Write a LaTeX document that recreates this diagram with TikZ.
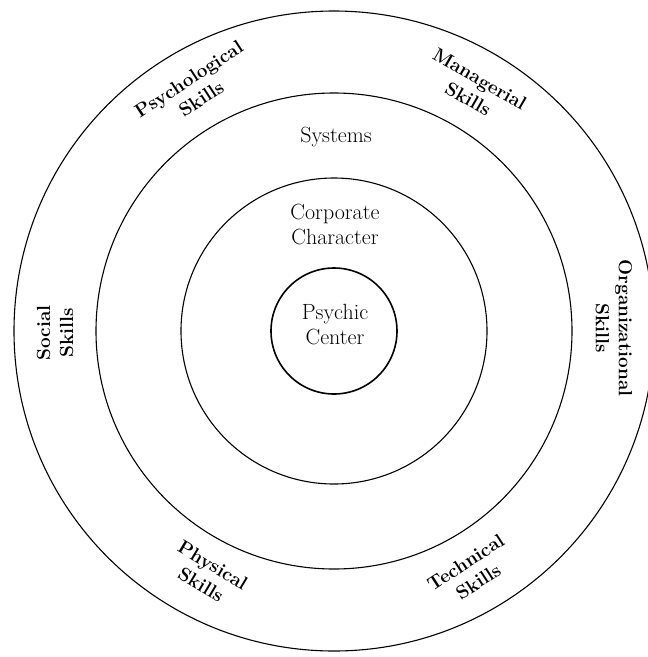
\documentclass[tikz,border=0pt]{standalone}
\usepackage{tikz}
\usetikzlibrary{positioning}

\begin{document}
\begin{tikzpicture}[x=1pt, y=-1pt,
    ring/.style={line width=1.1pt},
    core/.style={line width=1.6pt},
    inlabel/.style={font=\fontsize{22}{25}\selectfont, align=center},
    skill/.style={font=\fontsize{19}{23}\selectfont\bfseries, align=center}]
    \useasboundingbox (0,0) rectangle (648,657);
    \clip (0,0) rectangle (648,657);
    \coordinate (c) at (334,331);

    % rings from outside in
    \draw[ring] (c) circle[radius=320pt];
    \draw[ring] (c) circle[radius=238pt];
    \draw[ring] (c) circle[radius=153pt];
    \draw[core] (c) circle[radius=63pt];

    \node[inlabel] (sys) at (336,137) {Systems};
    \node[inlabel] (corp) at (335,224) {Corporate\\Character};
    \node[inlabel] (psyc) at (335,325) {Psychic\\Center};

    \node[skill, rotate=33] (psych) at (195,89) {Psychological\\Skills};
    \node[skill, rotate=-30] (mgr) at (474,89) {Managerial\\Skills};
    \node[skill, rotate=90] (soc) at (55,333) {Social\\Skills};
    \node[skill, rotate=-90] (org) at (614,328) {Organizational\\Skills};
    \node[skill, rotate=-31] (phys) at (207,575) {Physical\\Skills};
    \node[skill, rotate=33] (tech) at (472,572) {Technical\\Skills};
\end{tikzpicture}
\end{document}
